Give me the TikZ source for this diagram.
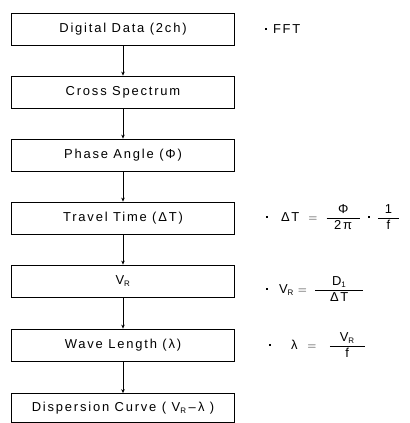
\documentclass[tikz,border=0pt]{standalone}
\usepackage{fontspec}
\usepackage{amsmath}
\setmainfont{Liberation Sans}[LetterSpace=14]
\usetikzlibrary{arrows.meta}
\newcommand{\VR}{\mbox{V}_{\mbox{\fontsize{8}{9}\selectfont R}}}
\newcommand{\bdot}{\raisebox{3.6bp}{\rule{1.8bp}{1.8bp}}}
\begin{document}
\begin{tikzpicture}[x=1bp,y=-1bp,
  stepbox/.style={draw, line width=0.8bp, minimum width=223bp, minimum height=32bp, inner sep=0, font=\fontsize{13}{15}\selectfont},
  flow/.style={-{Stealth[length=4bp,width=3.5bp]}, line width=0.6bp},
  note/.style={anchor=west, inner sep=0, font=\fontsize{13}{15}\selectfont}]
\useasboundingbox (0,0) rectangle (410,423);
\node[stepbox] (b1) at (123,29) {Digital Data (2ch)};
\node[stepbox] (b2) at (123,92) {Cross Spectrum};
\node[stepbox] (b3) at (123,155) {Phase Angle (Φ)};
\node[stepbox] (b4) at (123,218) {Travel Time (ΔT)};
\node[stepbox] (b5) at (123,281) {$\VR$};
\node[stepbox] (b6) at (123,345) {Wave Length (λ)};
\node[stepbox, minimum height=29bp] (b7) at (123,408) {Dispersion Curve ( $\VR$\,–\,λ )};
\draw[flow] (b1) -- (b2);
\draw[flow] (b2) -- (b3);
\draw[flow] (b3) -- (b4);
\draw[flow] (b4) -- (b5);
\draw[flow] (b5) -- (b6);
\draw[flow] (b6) -- (b7);
\node[note] (n1) at (265,29) {\bdot\hspace{6bp}FFT};
\node[note] (n4) at (266,217) {\bdot\hspace{13bp}ΔT\hspace{9bp}$=$\hspace{8bp}$\dfrac{\makebox[33bp]{Φ}}{\mbox{2π}}$\hspace{7bp}\bdot\hspace{7bp}$\dfrac{\makebox[21bp]{1}}{\mbox{f}}$};
\node[note] (n5) at (266,289) {\bdot\hspace{11bp}$\VR$\hspace{4bp}$=$\hspace{7bp}$\dfrac{\makebox[48bp]{D$_{\mbox{\fontsize{8}{9}\selectfont 1}}$}}{\mbox{ΔT}}$};
\node[note] (n6) at (269,345) {\bdot\hspace{20bp}λ\hspace{10bp}$=$\hspace{12bp}$\dfrac{\makebox[35bp]{$\VR$}}{\mbox{f}}$};
\end{tikzpicture}
\end{document}
